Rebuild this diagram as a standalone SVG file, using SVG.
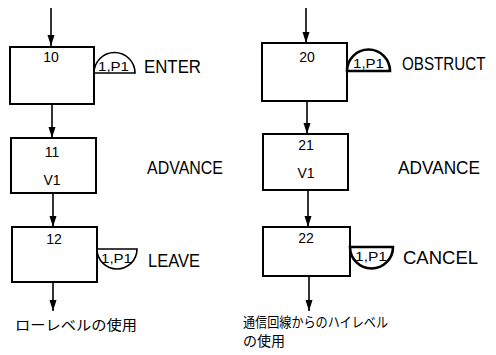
<svg xmlns="http://www.w3.org/2000/svg" width="496" height="355" viewBox="0 0 496 355">
<defs>
<marker id="ah" markerWidth="12" markerHeight="8" refX="11" refY="3.5" orient="auto" markerUnits="userSpaceOnUse">
<path d="M0,0 L11,3.5 L0,7 Z" fill="#000"/>
</marker>
<style>
.box{fill:#fff;stroke:#000;stroke-width:2}
.semi{fill:#fff;stroke:#000;stroke-width:1.6}
.semib{fill:#fff;stroke:#000;stroke-width:2.6}
.conn{stroke:#000;stroke-width:1.6;fill:none;marker-end:url(#ah)}
.num{font-family:"Liberation Sans",Arial,sans-serif;font-size:14px;text-anchor:middle;fill:#000}
.lab{font-family:"Liberation Sans",Arial,sans-serif;font-size:12px;fill:#000}
.op{font-family:"Liberation Sans",Arial,sans-serif;font-size:19px;fill:#000}
.jp{font-family:"Noto Sans CJK JP","Noto Sans CJK SC",sans-serif;font-size:14px;fill:#000}
</style>
</defs>
<g id="connectors">
<line class="conn" x1="51" y1="8" x2="51" y2="46"/>
<line class="conn" x1="52" y1="104" x2="52" y2="138"/>
<line class="conn" x1="53" y1="193" x2="53" y2="227"/>
<line class="conn" x1="53" y1="282" x2="53" y2="311"/>
<line class="conn" x1="306" y1="8" x2="306" y2="43"/>
<line class="conn" x1="307" y1="101" x2="307" y2="134"/>
<line class="conn" x1="308" y1="190" x2="308" y2="227"/>
<line class="conn" x1="309" y1="276" x2="309" y2="311"/>
</g>
<g id="n10">
<rect class="box" x="10" y="47" width="84" height="57"/>
<text class="num" x="51" y="62">10</text>
</g>
<g id="p10">
<path class="semi" d="M94,73 A20.5,20.5 0 0 1 135,73 Z"/>
<text class="lab" x="98" y="71" textLength="31" lengthAdjust="spacingAndGlyphs">1,P1</text>
<text class="op" x="144" y="73" textLength="57" lengthAdjust="spacingAndGlyphs">ENTER</text>
</g>
<g id="n11">
<rect class="box" x="11" y="138" width="85" height="55"/>
<text class="num" x="52" y="157">11</text>
<text class="num" x="52" y="185">V1</text>
<text class="op" x="147" y="174" textLength="76" lengthAdjust="spacingAndGlyphs">ADVANCE</text>
</g>
<g id="n12">
<rect class="box" x="12" y="227" width="85" height="55"/>
<text class="num" x="54" y="244">12</text>
</g>
<g id="p12">
<path class="semi" d="M97,249 A20,20 0 0 0 137,249 Z"/>
<text class="lab" x="101" y="263" textLength="31" lengthAdjust="spacingAndGlyphs">1,P1</text>
<text class="op" x="148" y="267" textLength="52" lengthAdjust="spacingAndGlyphs">LEAVE</text>
</g>
<g id="n20">
<rect class="box" x="262" y="43" width="85" height="58"/>
<text class="num" x="307" y="62">20</text>
</g>
<g id="p20">
<path class="semib" d="M347,71 A21.5,21.5 0 0 1 390,71 Z"/>
<text class="lab" x="353" y="68" textLength="31" lengthAdjust="spacingAndGlyphs">1,P1</text>
<text class="op" transform="translate(402,70) scale(0.8,1)" x="0" y="0">OBSTRUCT</text>
</g>
<g id="n21">
<rect class="box" x="263" y="134" width="85" height="56"/>
<text class="num" x="306" y="150">21</text>
<text class="num" x="306" y="178">V1</text>
<text class="op" x="398" y="174" textLength="82" lengthAdjust="spacingAndGlyphs">ADVANCE</text>
</g>
<g id="n22">
<rect class="box" x="263" y="227" width="87" height="49"/>
<text class="num" x="306" y="243">22</text>
</g>
<g id="p22">
<path class="semib" d="M350,247 A21.5,21.5 0 0 0 393,247 Z"/>
<text class="lab" x="355" y="261" textLength="32" lengthAdjust="spacingAndGlyphs">1,P1</text>
<text class="op" x="403" y="264" textLength="75" lengthAdjust="spacingAndGlyphs">CANCEL</text>
</g>
<g id="notes">
<text class="jp" x="15" y="330" textLength="122" lengthAdjust="spacingAndGlyphs">ローレベルの使用</text>
<text class="jp" x="243" y="327" font-size="12" textLength="145" lengthAdjust="spacingAndGlyphs">通信回線からのハイレベル</text>
<text class="jp" x="243" y="346" font-size="12">の使用</text>
</g>
</svg>
